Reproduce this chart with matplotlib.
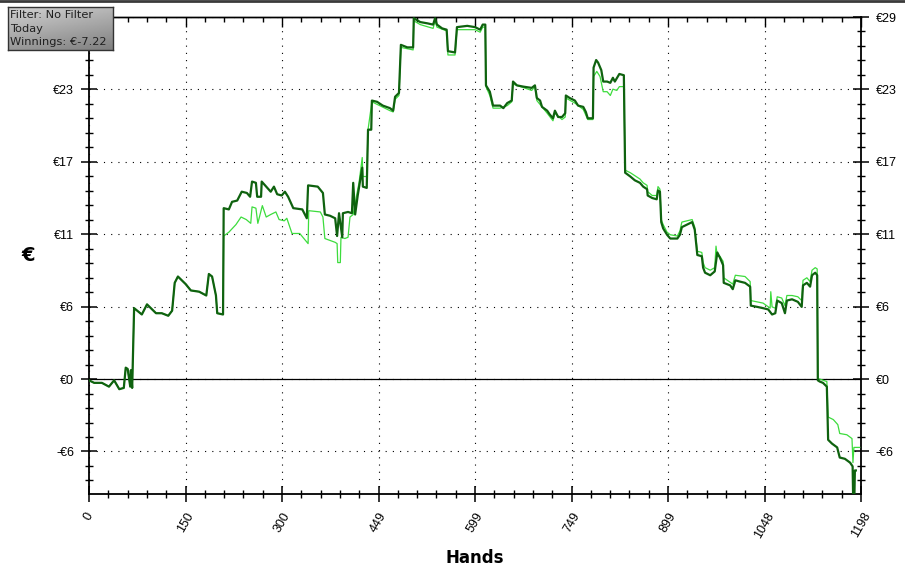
import numpy as np
import matplotlib
matplotlib.use("Agg")
import matplotlib.pyplot as plt
from matplotlib.ticker import AutoMinorLocator
from matplotlib.lines import Line2D

# cumulative winnings (dark)
won_hands = [0, 8, 20, 31, 39, 47, 54, 57, 60, 64, 65, 67, 70, 82, 90, 104, 113, 123,
             129, 133, 138, 150, 158, 171, 182, 186, 191, 197, 199, 208, 209, 217, 222,
             230, 237, 245, 250, 253, 259, 261, 267, 268, 275, 282, 287, 292, 299, 304,
             309, 317, 331, 338, 340, 355, 363, 366, 374, 382, 385, 388, 393, 394, 402,
             408, 410, 413, 417, 424, 425, 431, 433, 438, 439, 447, 456, 467, 472, 475,
             481, 484, 494, 503, 504, 514, 525, 534, 537, 540, 548, 555, 557, 568, 571,
             587, 599, 607, 611, 615, 616, 622, 627, 638, 643, 649, 656, 658, 664, 674,
             687, 692, 695, 700, 703, 711, 715, 720, 723, 728, 734, 739, 740, 746, 754,
             759, 767, 771, 774, 782, 783, 787, 790, 795, 798, 804, 809, 813, 816, 823,
             830, 832, 840, 847, 855, 860, 866, 867, 874, 881, 883, 886, 888, 891, 897,
             902, 913, 917, 920, 928, 936, 940, 944, 951, 953, 956, 964, 971, 975, 979,
             984, 985, 995, 999, 1003, 1010, 1018, 1026, 1027, 1037, 1046, 1054, 1057,
             1060, 1065, 1068, 1075, 1080, 1083, 1091, 1100, 1106, 1108, 1114, 1119,
             1122, 1127, 1130, 1131, 1134, 1139, 1145, 1147, 1153, 1161, 1165, 1173,
             1181, 1185, 1186, 1187.5, 1188.5, 1190]
won_euro = [-0.1, -0.3, -0.3, -0.6, -0.1, -0.8, -0.7, 0.9, 0.8, -0.6, 0.7, -0.7, 5.6,
            5.1, 5.9, 5.2, 5.2, 5.0, 5.4, 7.6, 8.1, 7.5, 7.0, 6.9, 6.6, 8.3, 8.1, 6.6,
            5.2, 5.1, 13.5, 13.4, 14.0, 14.1, 14.8, 14.7, 14.4, 15.6, 15.5, 14.4, 14.4,
            15.6, 15.2, 14.8, 15.2, 14.6, 14.5, 14.8, 14.4, 13.5, 13.4, 12.7, 15.3,
            15.2, 14.7, 13.0, 12.9, 12.7, 11.3, 13.1, 11.2, 13.1, 13.2, 13.1, 15.5,
            13.0, 14.5, 16.7, 15.2, 15.1, 19.7, 19.7, 22.0, 21.9, 21.6, 21.4, 21.2,
            22.3, 22.6, 26.4, 26.2, 26.2, 28.5, 28.2, 28.1, 28.0, 28.5, 28.0, 27.7,
            27.6, 25.9, 25.8, 27.8, 27.9, 27.8, 27.6, 28.0, 28.0, 23.2, 22.7, 21.6,
            21.6, 21.4, 21.8, 22.0, 23.5, 23.2, 23.1, 23.0, 23.2, 22.2, 22.0, 21.5,
            21.2, 20.9, 20.6, 21.2, 20.7, 20.7, 21.0, 22.4, 22.2, 22.0, 21.6, 21.5,
            21.1, 20.6, 20.6, 24.6, 25.2, 25.0, 24.4, 23.5, 23.5, 23.4, 23.8, 23.5,
            24.1, 24.0, 16.3, 16.0, 15.7, 15.5, 15.2, 15.0, 14.5, 14.3, 14.2, 14.9,
            14.8, 12.4, 11.9, 11.4, 11.1, 11.1, 11.4, 12.0, 12.2, 12.4, 11.8, 9.8,
            9.7, 8.8, 8.4, 8.2, 8.5, 10.0, 9.6, 9.0, 7.6, 7.4, 7.1, 7.8, 7.7, 7.6,
            7.3, 5.8, 5.7, 5.6, 5.5, 5.3, 5.1, 5.2, 6.2, 6.0, 5.2, 6.2, 6.3, 6.1, 5.7,
            7.4, 7.6, 7.3, 8.2, 8.4, 8.2, -0.1, -0.2, -0.3, -0.6, -4.8, -5.1, -5.4,
            -6.2, -6.3, -6.6, -6.9, -10.0, -10.0, -7.22, -7.22]

# second (light) curve: identical to the first up to hand 208
split = won_hands.index(208) + 1
ev_hands = won_hands[:split] + [
    209, 217, 228, 236, 244, 251, 253, 259, 262, 269, 275, 282, 290, 295, 303, 307,
    315, 327, 335, 340, 341, 359, 363, 366, 382, 385, 386, 390, 391, 397, 402, 405,
    410, 416, 419, 424, 425, 431, 433, 439, 447, 467, 472, 475, 481, 484, 503, 504,
    514, 534, 537, 540, 555, 557, 568, 571, 599, 607, 611, 615, 616, 622, 627, 638,
    649, 656, 658, 687, 692, 695, 711, 720, 723, 734, 739, 740, 754, 767, 774, 782,
    783, 788, 793, 798, 804, 809, 813, 819, 823, 830, 832, 840, 855, 860, 866, 867,
    874, 881, 883, 886, 888, 891, 897, 902, 913, 917, 920, 936, 940, 944, 951, 953,
    956, 964, 971, 973, 975, 979, 984, 985, 999, 1003, 1018, 1026, 1027, 1046, 1057,
    1058, 1060, 1065, 1068, 1075, 1080, 1083, 1091, 1100, 1106, 1108, 1114, 1119,
    1122, 1127, 1130, 1131, 1134, 1145, 1147, 1155, 1162, 1165, 1176, 1184, 1185.5,
    1187, 1196]
ev_euro = won_euro[:split] + [
    11.3, 11.6, 12.2, 12.8, 12.6, 12.3, 13.6, 13.5, 12.3, 13.7, 12.8, 13.0, 13.2,
    12.6, 12.5, 12.7, 11.5, 11.5, 11.0, 10.7, 13.3, 13.2, 12.8, 11.1, 10.8, 10.7,
    9.2, 9.2, 11.2, 11.1, 11.2, 12.8, 13.0, 14.7, 15.5, 17.5, 16.0, 16.0, 19.7,
    21.9, 21.7, 21.2, 21.1, 22.1, 22.4, 26.2, 26.0, 28.3, 28.0, 27.7, 28.3, 27.8,
    27.5, 25.6, 25.6, 27.6, 27.6, 27.4, 27.8, 27.8, 23.1, 22.4, 21.4, 21.4, 21.6,
    21.9, 23.3, 22.8, 23.1, 22.0, 21.0, 20.4, 21.0, 20.5, 20.7, 22.2, 21.8, 21.3,
    20.5, 20.5, 23.9, 24.3, 23.9, 22.7, 22.7, 22.4, 22.9, 22.8, 23.1, 23.1, 16.5,
    16.3, 15.8, 15.5, 15.3, 14.8, 14.5, 14.5, 15.2, 15.0, 12.6, 12.2, 11.6, 11.4,
    11.3, 11.7, 12.4, 12.6, 12.0, 10.1, 10.0, 9.2, 8.8, 8.6, 8.8, 10.5, 9.7, 9.7,
    9.3, 8.0, 7.5, 8.2, 8.1, 7.7, 6.2, 6.0, 5.6, 6.9, 5.7, 5.6, 6.5, 6.4, 5.8, 6.6,
    6.6, 6.5, 6.2, 7.8, 8.0, 7.7, 8.6, 8.8, 8.7, 0.0, 0.0, -0.2, -3.0, -3.2, -3.6,
    -4.3, -4.4, -4.7, -6.6, -5.4, -5.4]

x_tick_labels = ["0", "150", "300", "449", "599", "749", "899", "1048", "1198"]
y_tick_labels = ["-€6", "€0", "€6", "€11", "€17", "€23", "€29"]
y_step = 5.72
total_hands = 1198
box_lines = ["Filter: No Filter", "Today", "Winnings: €-7.22"]

dark_green = "#0f620f"
light_green = "#3ddc3d"

fig = plt.figure(figsize=(9.05, 5.72), dpi=100)
ax = fig.add_axes([89 / 905, 78 / 572, 772 / 905, 477 / 572])

ax.plot(ev_hands, ev_euro, color=light_green, lw=0.9, zorder=3)
ax.plot(won_hands, won_euro, color=dark_green, lw=1.6, zorder=4)
ax.axhline(0, color="black", lw=0.9, zorder=2)

ax.set_xlim(0, total_hands)
ax.set_ylim(-9.08, 5 * y_step)

xt = np.linspace(0, total_hands, len(x_tick_labels))
yt = np.arange(-1, len(y_tick_labels) - 1) * y_step
ax.set_xticks(xt)
ax.set_xticklabels(x_tick_labels, rotation=60, ha="center", va="top",
                   fontfamily="Liberation Sans", fontsize=9)
ax.set_yticks(yt)
ax.set_yticklabels(y_tick_labels, fontfamily="Liberation Sans", fontsize=9)
ax.xaxis.set_minor_locator(AutoMinorLocator(5))
ax.yaxis.set_minor_locator(AutoMinorLocator(5))

ax.tick_params(axis="both", which="major", direction="inout", length=11.5, width=1.1,
               color="black")
ax.tick_params(axis="both", which="minor", direction="inout", length=6, width=1.0,
               color="black")
ax.tick_params(axis="x", which="both", top=False, pad=6)
ax.tick_params(axis="y", which="both", left=True, right=True, labelleft=True,
               labelright=True, pad=5)
for lab in ax.get_yticklabels(which="both"):
    lab.set_fontfamily("Liberation Sans")
# the top-left "€29" sits under the info box, so it is not drawn
ax.yaxis.get_major_ticks()[-1].label1.set_visible(False)

# top edge only has ticks pointing inward
top = ax.secondary_xaxis("top")
top.set_xticks(xt)
top.xaxis.set_minor_locator(AutoMinorLocator(5))
top.tick_params(which="major", direction="in", length=7, width=1.0, labeltop=False)
top.tick_params(which="minor", direction="in", length=3.6, width=1.0)
top.spines["top"].set_linewidth(1.0)

ax.grid(True, which="major", color="black", linestyle=(0, (1, 5.5)), linewidth=0.8)
for side in ["left", "bottom", "right"]:
    ax.spines[side].set_linewidth(1.3)
ax.spines["top"].set_linewidth(1.0)

ax.set_xlabel("Hands", fontsize=12, fontweight="bold", labelpad=6)
ax.set_ylabel("€", fontsize=14, fontweight="bold", rotation=0, labelpad=18,
              va="center")

# dark line across the very top of the image
fig.add_artist(Line2D([0, 1], [0.9975, 0.9975], transform=fig.transFigure,
                      color="#3a3a3a", lw=2))

# grey info box in the top-left corner
box = fig.add_axes([8 / 905, 1 - 50 / 572, 105 / 905, 43 / 572])
gy, gx = np.mgrid[0:1:50j, 0:1:80j]
shade = 0.82 - 0.22 * gy - 0.10 * gx
box.imshow(shade, cmap="gray", vmin=0, vmax=1, aspect="auto",
           extent=[0, 1, 0, 1], origin="upper")
box.set_xticks([])
box.set_yticks([])
for sp in box.spines.values():
    sp.set_color("#333333")
    sp.set_linewidth(1.0)
box.text(0.02, 0.5, "\n".join(box_lines), transform=box.transAxes,
         fontsize=8.2, color="#202020", va="center", ha="left", linespacing=1.45)

fig.savefig("out.png", dpi=100)
